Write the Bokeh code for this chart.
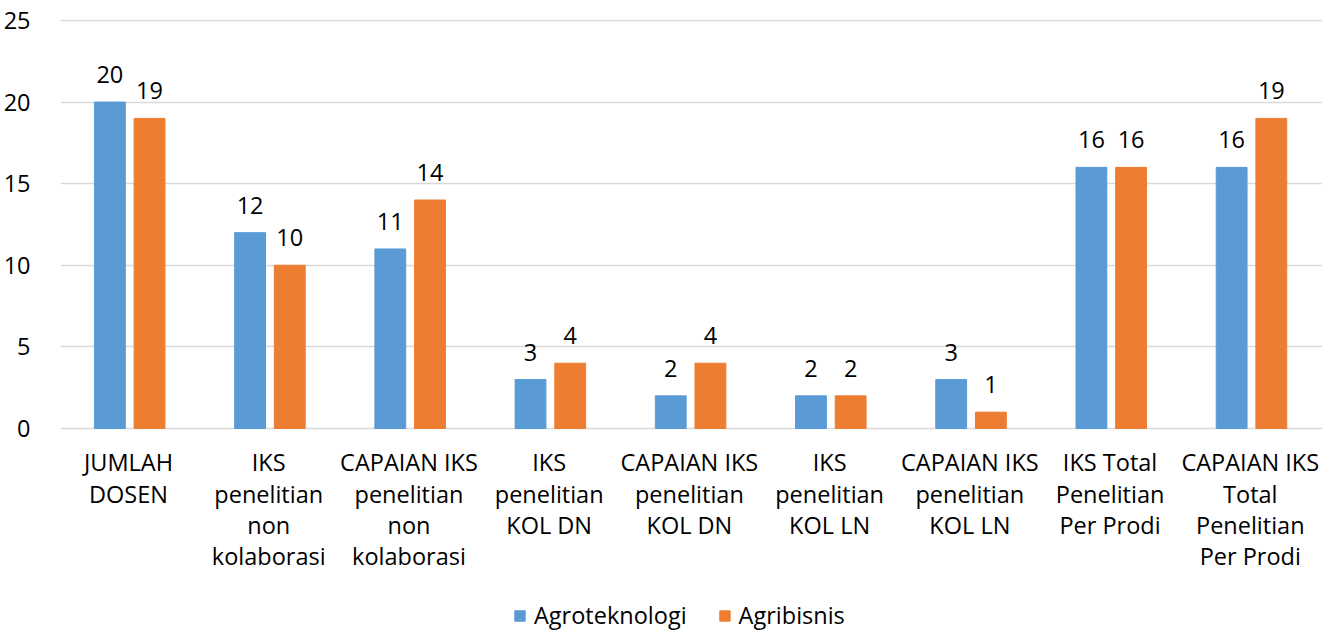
from bokeh.plotting import figure
from bokeh.models import ColumnDataSource, Range1d, FactorRange, Legend, LegendItem, FixedTicker, LabelSet
from bokeh.transform import dodge
from bokeh.core.properties import value
from bokeh.embed import file_html
from bokeh.resources import INLINE

categories = ["JUMLAH\nDOSEN", "IKS\npenelitian\nnon\nkolaborasi", "CAPAIAN IKS\npenelitian\nnon\nkolaborasi",
              "IKS\npenelitian\nKOL DN", "CAPAIAN IKS\npenelitian\nKOL DN", "IKS\npenelitian\nKOL LN",
              "CAPAIAN IKS\npenelitian\nKOL LN", "IKS Total\nPenelitian\nPer Prodi",
              "CAPAIAN IKS\nTotal\nPenelitian\nPer Prodi"]
agroteknologi = [20, 12, 11, 3, 2, 2, 3, 16, 16]
agribisnis = [19, 10, 14, 4, 4, 2, 1, 16, 19]
series_names = ["Agroteknologi", "Agribisnis"]
colors = ["#5B9BD5", "#ED7D31"]
y_ticks = [0, 5, 10, 15, 20, 25]

FONT = "Open Sans"
FS = "23.5px"
TXT = "#000000"

src = ColumnDataSource(dict(cat=categories, a=agroteknologi, b=agribisnis,
                            al=[str(v) for v in agroteknologi], bl=[str(v) for v in agribisnis],
                            base=[0] * len(categories)))

p = figure(x_range=FactorRange(*categories), y_range=Range1d(-12.5, 25.06),
           width=1322, height=632, output_backend="svg", toolbar_location=None,
           x_axis_location=None,
           min_border_left=51, min_border_top=19, min_border_right=0, min_border_bottom=0)

r1 = p.vbar(x=dodge("cat", -0.148, range=p.x_range), top="a", width=0.22, source=src,
            fill_color=colors[0], line_color=colors[0])
r2 = p.vbar(x=dodge("cat", 0.135, range=p.x_range), top="b", width=0.22, source=src,
            fill_color=colors[1], line_color=colors[1])

for col, lab, off in (("a", "al", -0.148), ("b", "bl", 0.135)):
    ls = LabelSet(x=dodge("cat", off, range=p.x_range), y=col, text=lab, source=src,
                  text_align="center", text_baseline="alphabetic", y_offset=19,
                  text_font=value(FONT), text_font_size=FS, text_color=TXT)
    p.add_layout(ls)

# category labels under the bars
p.text(x=dodge("cat", -0.015, range=p.x_range), y="base", text="cat", source=src,
       text_align="center", text_baseline="top", y_offset=18,
       text_font=value(FONT), text_font_size=value(FS), text_color=TXT,
       text_line_height=0.97)

p.xgrid.grid_line_color = None
p.ygrid.grid_line_color = "#D9D9D9"
p.ygrid.grid_line_width = 1.5
p.yaxis.ticker = FixedTicker(ticks=y_ticks)
p.yaxis.axis_line_color = None
p.yaxis.major_tick_line_color = None
p.yaxis.minor_tick_line_color = None
p.yaxis.major_label_text_font = FONT
p.yaxis.major_label_text_font_size = FS
p.yaxis.major_label_text_color = TXT
p.yaxis.major_label_standoff = 24
p.outline_line_color = None

legend = Legend(items=[LegendItem(label=series_names[0], renderers=[r1]),
                       LegendItem(label=series_names[1], renderers=[r2])],
                orientation="horizontal", location=(453, 1),
                label_text_font=FONT, label_text_font_size=FS, label_text_color=TXT,
                glyph_width=13, glyph_height=13, spacing=31, label_standoff=8,
                border_line_color=None, background_fill_alpha=0, margin=0, padding=0)
p.add_layout(legend, "center")

open("out.html", "w").write(file_html(p, INLINE))
